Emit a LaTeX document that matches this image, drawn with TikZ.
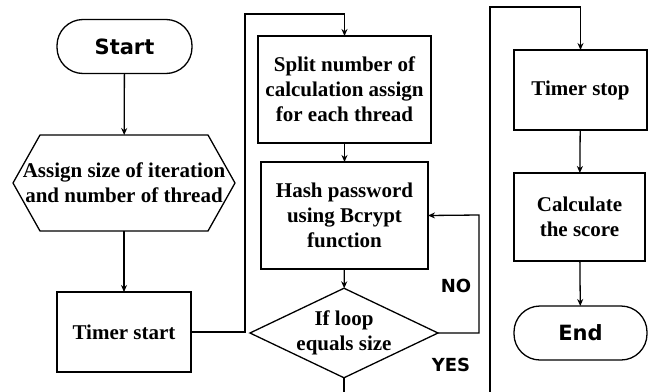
\documentclass[tikz,border=0pt]{standalone}
\usepackage{fontspec}
\setmainfont{Liberation Serif}
\newfontfamily\tagfont{DejaVu Sans}
\usetikzlibrary{shapes.geometric, arrows.meta}

\begin{document}
\begin{tikzpicture}[
			x=1pt,
			y=-1pt,
			>={Stealth[length=7pt, width=6pt]},
			line width=1.3pt,
			font=\fontsize{21}{25}\selectfont\bfseries,
			box/.style={draw, align=center, minimum width=134pt, minimum height=80pt, inner sep=2pt, outer sep=0pt},
			terminal/.style={draw, rounded corners=26pt, minimum width=135pt, minimum height=54pt, outer sep=0pt, font=\tagfont\fontsize{21}{25}\selectfont\bfseries},
			decision/.style={draw, diamond, aspect=2.1, align=center, minimum width=182pt, minimum height=86pt, inner sep=0pt, outer sep=0pt},
			hexa/.style={align=center, minimum width=222pt, minimum height=96pt, inner sep=0pt, outer sep=0pt},
			tag/.style={font=\tagfont\fontsize{18}{20}\selectfont\bfseries}
		]
			\useasboundingbox (0,0) rectangle (655,391);
			\clip (0,0) rectangle (655,391);

			% first column
			\node[terminal] (start) at (124.5,46.5) {Start};
			\node[hexa] (assign) at (124,183) {Assign size of iteration\\and number of thread};
			\draw (assign.west) -- ([xshift=27pt]assign.north west) -- ([xshift=-27pt]assign.north east)
				-- (assign.east) -- ([xshift=-27pt]assign.south east) -- ([xshift=27pt]assign.south west) -- cycle;
			\node[box] (tstart) at (124,332) {Timer start};

			% second column
			\node[box, minimum width=173pt, minimum height=107pt] (split) at (344.5,89.5) {Split number of\\calculation assign\\for each thread};
			\node[box, minimum width=167pt, minimum height=107pt] (hash) at (344.5,215.5) {Hash password\\using Bcrypt\\function};
			\node[decision] (check) at (344,333) {If loop\\equals size};

			% third column
			\node[box, minimum width=133pt] (tstop) at (580.5,90) {Timer stop};
			\node[box, minimum width=131pt, minimum height=88pt] (calc) at (579.5,217) {Calculate\\the score};
			\node[terminal, minimum width=133pt] (end) at (580.5,333) {End};

			\node[tag] (no) at (456,286) {NO};
			\node[tag] (yes) at (451,365) {YES};

			\coordinate (up1) at (245,14);
			\coordinate (loop) at (479,215);
			\coordinate (down) at (490,420);
			\coordinate (up2) at (490,7);

			\draw[->] (start) -- (assign);
			\draw[->] (assign) -- (tstart);
			\draw[->] (tstart.east) -| (up1) -| (split.north);

			\draw[->] (split) -- (hash);
			\draw[->] (hash) -- (check);
			\draw[->] (check.east) -| (loop) -- (hash.east);
			\draw[->] (check.south) |- (down) -- (up2) -| (tstop.north);

			\draw[->] (tstop) -- (calc);
			\draw[->] (calc) -- (end);
		\end{tikzpicture}
\end{document}
